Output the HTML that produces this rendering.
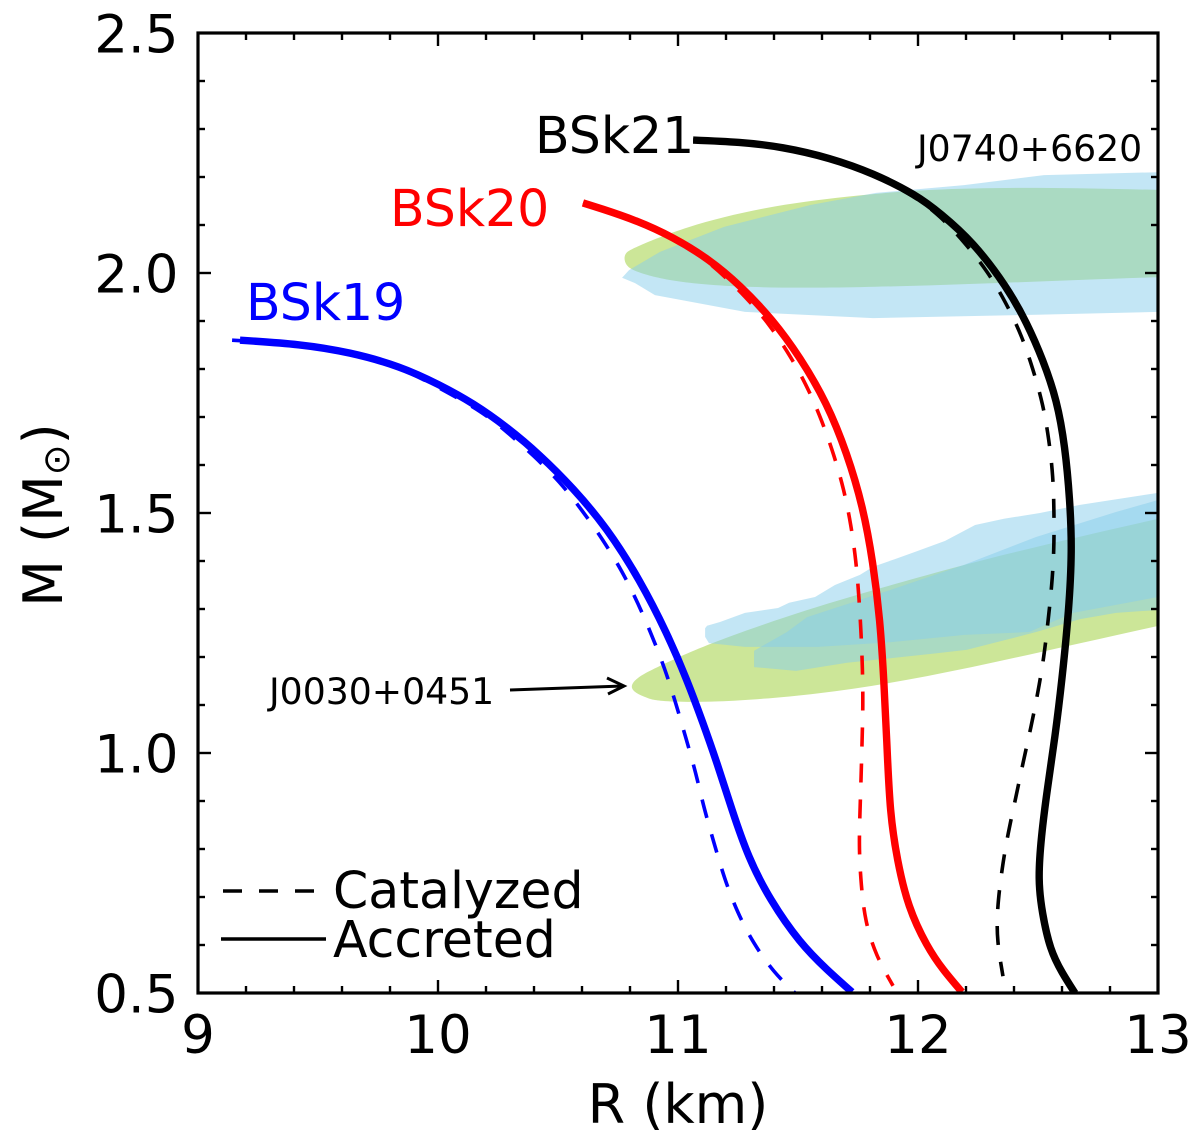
<!DOCTYPE html>
<html lang="en">
<head>
<meta charset="utf-8">
<title>Mass-radius relations BSk19 BSk20 BSk21</title>
<style>
html,body{margin:0;padding:0;background:#fff;}
#chart{display:block;width:1200px;height:1131px;font-family:"DejaVu Sans","Liberation Sans",sans-serif;}
</style>
</head>
<body>
<svg id="chart" xmlns="http://www.w3.org/2000/svg" width="1200" height="1131" viewBox="0 0 1200 1131">
  <defs>
    <clipPath id="plot-clip"><rect x="198" y="33" width="960" height="960"/></clipPath>
  </defs>
  <rect x="0" y="0" width="1200" height="1131" fill="#fff"/>
  <g id="regions" clip-path="url(#plot-clip)"></g>
  <g id="curves" clip-path="url(#plot-clip)"></g>
  <g id="ticks"></g>
  <rect x="198" y="33" width="960" height="960" fill="none" stroke="#000" stroke-width="3.2"/>
  <g id="tick-labels" font-size="53" fill="#000"></g>

  <text x="678" y="1123" font-size="54" text-anchor="middle">R (km)</text>
  <text transform="translate(62,515) rotate(-90)" font-size="54" text-anchor="middle">M (M<tspan font-size="37" dy="7">⊙</tspan><tspan dy="-7">)</tspan></text>

  <text x="535" y="153" font-size="50.5" fill="#000">BSk21</text>
  <text x="390" y="226" font-size="50.5" fill="#ff0000">BSk20</text>
  <text x="246" y="320" font-size="50.5" fill="#0000ff">BSk19</text>
  <text x="917" y="161" font-size="36.2">J0740+6620</text>
  <text x="269" y="704" font-size="36.2">J0030+0451</text>

  <g fill="none" stroke="#000" stroke-width="3">
    <line x1="510" y1="690" x2="623" y2="686"/>
    <polyline points="607,678 624,686 608,694"/>
  </g>

  <g>
    <line x1="223" y1="891" x2="314" y2="891" stroke="#000" stroke-width="3.6" stroke-dasharray="19 17"/>
    <text x="333" y="908" font-size="50.5">Catalyzed</text>
    <line x1="221" y1="939" x2="326" y2="939" stroke="#000" stroke-width="3.6"/>
    <text x="333" y="957" font-size="50.5">Accreted</text>
  </g>
</svg>
<script>
// Axis ticks
const xMajorTicks = [9, 10, 11, 12, 13];
const xMinorTicks = [9.2, 9.4, 9.6, 9.8, 10.2, 10.4, 10.6, 10.8, 11.2, 11.4, 11.6, 11.8, 12.2, 12.4, 12.6, 12.8];
const yMajorTicks = [0.5, 1.0, 1.5, 2.0, 2.5];
const yMinorTicks = [0.6, 0.7, 0.8, 0.9, 1.1, 1.2, 1.3, 1.4, 1.6, 1.7, 1.8, 1.9, 2.1, 2.2, 2.3, 2.4];
const xTickLabels = ['9', '10', '11', '12', '13'];
const yTickLabels = ['0.5', '1.0', '1.5', '2.0', '2.5'];

// Solid (accreted) curves: radius in km, mass in solar masses
const bsk21AccretedR = [11.063, 11.258, 11.433, 11.633, 11.813, 11.992, 12.092, 12.229, 12.371, 12.454, 12.521, 12.579, 12.613, 12.633, 12.642, 12.629, 12.600, 12.571, 12.538, 12.513, 12.500, 12.517, 12.550, 12.600, 12.654];
const bsk21AccretedM = [2.277, 2.273, 2.263, 2.240, 2.208, 2.163, 2.125, 2.065, 1.971, 1.896, 1.819, 1.735, 1.638, 1.527, 1.423, 1.298, 1.152, 1.033, 0.923, 0.825, 0.735, 0.667, 0.590, 0.542, 0.500];
const bsk20AccretedR = [10.604, 10.675, 10.825, 10.979, 11.129, 11.258, 11.396, 11.508, 11.621, 11.704, 11.771, 11.813, 11.842, 11.858, 11.871, 11.883, 11.913, 11.958, 12.038, 12.104, 12.183];
const bsk20AccretedM = [2.146, 2.135, 2.110, 2.075, 2.029, 1.975, 1.902, 1.825, 1.729, 1.625, 1.513, 1.396, 1.277, 1.152, 1.013, 0.875, 0.777, 0.679, 0.596, 0.548, 0.502];
const bsk19AccretedR = [9.175, 9.425, 9.633, 9.842, 10.008, 10.146, 10.288, 10.425, 10.563, 10.704, 10.842, 10.954, 11.038, 11.104, 11.163, 11.225, 11.292, 11.383, 11.508, 11.621, 11.725];
const bsk19AccretedM = [1.860, 1.852, 1.835, 1.806, 1.767, 1.729, 1.679, 1.621, 1.552, 1.469, 1.360, 1.250, 1.152, 1.063, 0.979, 0.881, 0.783, 0.694, 0.604, 0.548, 0.502];

// Dashed (catalyzed) curves
const bsk21CatalyzedR = [11.063, 11.258, 11.433, 11.633, 11.813, 11.992, 12.092, 12.196, 12.292, 12.367, 12.433, 12.479, 12.521, 12.546, 12.563, 12.567, 12.567, 12.558, 12.542, 12.525, 12.500, 12.471, 12.438, 12.408, 12.375, 12.350, 12.329, 12.329, 12.354];
const bsk21CatalyzedM = [2.277, 2.273, 2.263, 2.240, 2.206, 2.158, 2.119, 2.063, 2.002, 1.938, 1.869, 1.800, 1.727, 1.652, 1.577, 1.502, 1.423, 1.350, 1.275, 1.200, 1.127, 1.054, 0.981, 0.908, 0.833, 0.760, 0.673, 0.608, 0.535];
const bsk20CatalyzedR = [10.604, 10.675, 10.825, 10.979, 11.129, 11.292, 11.388, 11.471, 11.542, 11.600, 11.650, 11.692, 11.721, 11.742, 11.754, 11.763, 11.769, 11.771, 11.767, 11.763, 11.758, 11.754, 11.763, 11.779, 11.825, 11.896];
const bsk20CatalyzedM = [2.146, 2.135, 2.108, 2.073, 2.025, 1.946, 1.888, 1.825, 1.760, 1.692, 1.621, 1.548, 1.475, 1.400, 1.325, 1.250, 1.173, 1.100, 1.025, 0.950, 0.875, 0.800, 0.725, 0.650, 0.577, 0.515];
const bsk19CatalyzedR = [9.142, 9.425, 9.633, 9.842, 10.008, 10.188, 10.292, 10.400, 10.508, 10.600, 10.688, 10.767, 10.833, 10.892, 10.946, 10.992, 11.033, 11.075, 11.108, 11.150, 11.192, 11.246, 11.313, 11.400, 11.488];
const bsk19CatalyzedM = [1.860, 1.852, 1.835, 1.804, 1.760, 1.710, 1.667, 1.619, 1.565, 1.506, 1.444, 1.379, 1.313, 1.244, 1.175, 1.102, 1.031, 0.958, 0.885, 0.813, 0.740, 0.669, 0.604, 0.542, 0.500];

// Observational constraint regions (the green ones run past the right axis limit and are clipped)
const j0740GreenR = [10.775, 10.779, 10.813, 11.025, 11.358, 11.704, 12.038, 12.492, 13.0, 13.5, 13.5, 13.0, 12.342, 11.738, 11.279, 10.979, 10.825, 10.788];
const j0740GreenM = [2.027, 2.042, 2.052, 2.096, 2.138, 2.160, 2.175, 2.179, 2.173, 2.168, 1.998, 1.992, 1.979, 1.969, 1.969, 1.981, 2.002, 2.013];
const j0740BlueR = [10.767, 10.796, 10.925, 11.192, 11.554, 11.825, 12.192, 12.525, 13.0, 13.0, 12.492, 11.813, 11.279, 10.904, 10.821];
const j0740BlueM = [1.990, 2.006, 2.044, 2.096, 2.142, 2.167, 2.183, 2.204, 2.210, 1.919, 1.913, 1.906, 1.919, 1.954, 1.979];
const j0030GreenR = [10.8, 10.825, 10.904, 11.129, 11.554, 11.888, 12.342, 13.0, 13.5, 13.5, 13.0, 12.492, 12.038, 11.583, 11.129, 10.904, 10.871, 10.821];
const j0030GreenM = [1.138, 1.156, 1.177, 1.229, 1.302, 1.350, 1.413, 1.488, 1.545, 1.320, 1.265, 1.208, 1.158, 1.121, 1.104, 1.108, 1.115, 1.125];
const j0030BlueOuterR = [11.113, 11.113, 11.121, 11.175, 11.279, 11.417, 11.463, 11.571, 11.654, 11.758, 11.813, 11.904, 11.988, 12.113, 12.238, 12.358, 12.508, 12.675, 13.0, 13.0, 12.646, 12.463, 12.192, 11.888, 11.583, 11.279, 11.129];
const j0030BlueOuterM = [1.242, 1.260, 1.265, 1.273, 1.292, 1.302, 1.313, 1.325, 1.350, 1.371, 1.388, 1.404, 1.419, 1.442, 1.475, 1.488, 1.500, 1.517, 1.542, 1.325, 1.292, 1.252, 1.246, 1.231, 1.221, 1.221, 1.229];
const j0030BlueInnerR = [11.317, 11.454, 11.538, 11.888, 12.192, 12.492, 12.825, 13.0, 13.0, 12.825, 12.675, 12.492, 12.204, 12.083, 11.704, 11.492, 11.317];
const j0030BlueInnerM = [1.213, 1.252, 1.283, 1.340, 1.392, 1.450, 1.502, 1.527, 1.298, 1.292, 1.279, 1.252, 1.215, 1.208, 1.188, 1.171, 1.179];

const SVGNS = 'http://www.w3.org/2000/svg';
const plotLeft = 198, plotRight = 1158, plotTop = 33, plotBottom = 993;
const xMin = 9, xMax = 13, yMin = 0.5, yMax = 2.5;

function xScale(r) { return plotLeft + (r - xMin) / (xMax - xMin) * (plotRight - plotLeft); }
function yScale(m) { return plotBottom - (m - yMin) / (yMax - yMin) * (plotBottom - plotTop); }

function toPoints(rs, ms) {
  return rs.map(function (r, i) { return [xScale(r), yScale(ms[i])]; });
}
function straightPath(pts) {
  return 'M' + pts.map(function (p) { return p[0].toFixed(2) + ' ' + p[1].toFixed(2); }).join('L') + 'Z';
}
// Cubic B-spline through the read-off values: removes kinks from small reading errors
function smoothPath(pts, closed) {
  const n = pts.length;
  function at(i) {
    if (closed) return pts[(i + n) % n];
    if (i < 0) return [2 * pts[0][0] - pts[1][0], 2 * pts[0][1] - pts[1][1]];
    if (i >= n) return [2 * pts[n - 1][0] - pts[n - 2][0], 2 * pts[n - 1][1] - pts[n - 2][1]];
    return pts[i];
  }
  function fmt(x, y) { return x.toFixed(2) + ' ' + y.toFixed(2); }
  const first = [(at(-1)[0] + 4 * at(0)[0] + at(1)[0]) / 6, (at(-1)[1] + 4 * at(0)[1] + at(1)[1]) / 6];
  let d = 'M' + fmt(first[0], first[1]);
  const segs = closed ? n : n - 1;
  for (let i = 0; i < segs; i++) {
    const p1 = at(i), p2 = at(i + 1), p3 = at(i + 2);
    d += 'C' + fmt((2 * p1[0] + p2[0]) / 3, (2 * p1[1] + p2[1]) / 3) + ' ' +
      fmt((p1[0] + 2 * p2[0]) / 3, (p1[1] + 2 * p2[1]) / 3) + ' ' +
      fmt((p1[0] + 4 * p2[0] + p3[0]) / 6, (p1[1] + 4 * p2[1] + p3[1]) / 6);
  }
  return closed ? d + 'Z' : d;
}

const regionsGroup = document.getElementById('regions');
const curvesGroup = document.getElementById('curves');
const ticksGroup = document.getElementById('ticks');
const labelsGroup = document.getElementById('tick-labels');

function addRegion(name, rs, ms, color, smooth) {
  const el = document.createElementNS(SVGNS, 'path');
  
  
  const pts = toPoints(rs, ms);
  el.setAttribute('d', smooth ? smoothPath(pts, true) : straightPath(pts));
  el.setAttribute('fill', color);
  el.setAttribute('fill-opacity', '0.5');
  regionsGroup.appendChild(el);
}
addRegion('j0740-region-green', j0740GreenR, j0740GreenM, '#9acd32', true);
addRegion('j0740-region-blue', j0740BlueR, j0740BlueM, '#87ceeb', false);
addRegion('j0030-region-green', j0030GreenR, j0030GreenM, '#9acd32', true);
addRegion('j0030-region-blue-outer', j0030BlueOuterR, j0030BlueOuterM, '#87ceeb', false);
addRegion('j0030-region-blue-inner', j0030BlueInnerR, j0030BlueInnerM, '#87ceeb', false);

function addCurve(name, rs, ms, color, dashed) {
  const el = document.createElementNS(SVGNS, 'path');
  
  
  el.setAttribute('d', smoothPath(toPoints(rs, ms), false));
  el.setAttribute('fill', 'none');
  el.setAttribute('stroke', color);
  el.setAttribute('stroke-width', dashed ? '3.6' : '7.4');
  if (dashed) el.setAttribute('stroke-dasharray', '19 17');
  curvesGroup.appendChild(el);
}
addCurve('bsk21-catalyzed-curve', bsk21CatalyzedR, bsk21CatalyzedM, '#000000', true);
addCurve('bsk20-catalyzed-curve', bsk20CatalyzedR, bsk20CatalyzedM, '#ff0000', true);
addCurve('bsk19-catalyzed-curve', bsk19CatalyzedR, bsk19CatalyzedM, '#0000ff', true);
addCurve('bsk21-accreted-curve', bsk21AccretedR, bsk21AccretedM, '#000000', false);
addCurve('bsk20-accreted-curve', bsk20AccretedR, bsk20AccretedM, '#ff0000', false);
addCurve('bsk19-accreted-curve', bsk19AccretedR, bsk19AccretedM, '#0000ff', false);

function addTick(name, x1, y1, x2, y2) {
  const el = document.createElementNS(SVGNS, 'line');
  
  
  el.setAttribute('x1', x1);
  el.setAttribute('y1', y1);
  el.setAttribute('x2', x2);
  el.setAttribute('y2', y2);
  el.setAttribute('stroke', '#000');
  el.setAttribute('stroke-width', '2.4');
  ticksGroup.appendChild(el);
}
const majorLen = 13, minorLen = 7;
xMajorTicks.forEach(function (v) {
  const x = xScale(v);
  addTick('x-major-tick', x, plotBottom, x, plotBottom - majorLen);
  addTick('x-major-tick-top', x, plotTop, x, plotTop + majorLen);
});
xMinorTicks.forEach(function (v) {
  const x = xScale(v);
  addTick('x-minor-tick', x, plotBottom, x, plotBottom - minorLen);
  addTick('x-minor-tick-top', x, plotTop, x, plotTop + minorLen);
});
yMajorTicks.forEach(function (v) {
  const y = yScale(v);
  addTick('y-major-tick', plotLeft, y, plotLeft + majorLen, y);
  addTick('y-major-tick-right', plotRight, y, plotRight - majorLen, y);
});
yMinorTicks.forEach(function (v) {
  const y = yScale(v);
  addTick('y-minor-tick', plotLeft, y, plotLeft + minorLen, y);
  addTick('y-minor-tick-right', plotRight, y, plotRight - minorLen, y);
});

xMajorTicks.forEach(function (v, i) {
  const el = document.createElementNS(SVGNS, 'text');
  
  
  el.setAttribute('x', xScale(v));
  el.setAttribute('y', 1053);
  el.setAttribute('text-anchor', 'middle');
  el.textContent = xTickLabels[i];
  labelsGroup.appendChild(el);
});
yMajorTicks.forEach(function (v, i) {
  const el = document.createElementNS(SVGNS, 'text');
  
  
  el.setAttribute('x', 178.5);
  el.setAttribute('y', yScale(v) + 19.5);
  el.setAttribute('text-anchor', 'end');
  el.textContent = yTickLabels[i];
  labelsGroup.appendChild(el);
});
</script>
</body>
</html>
